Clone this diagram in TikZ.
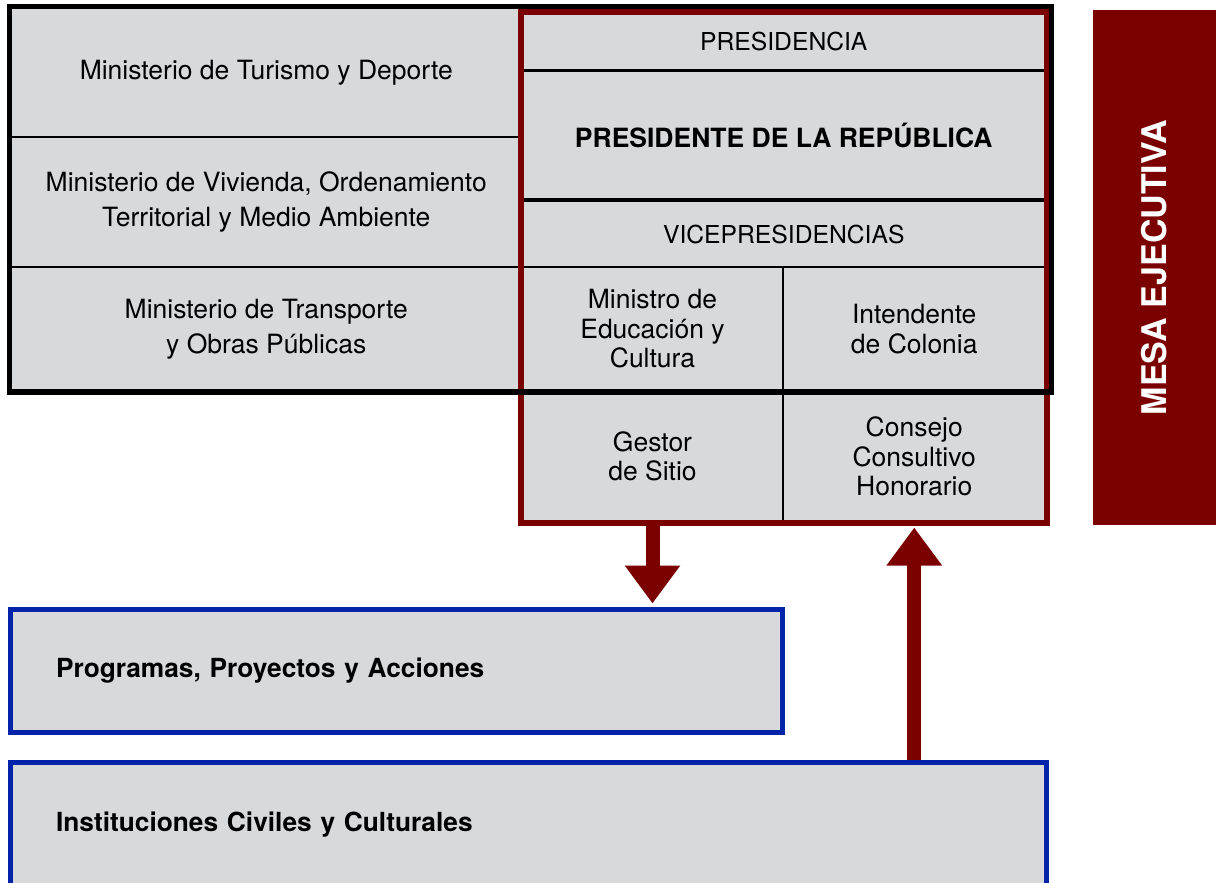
\documentclass[tikz,border=0pt]{standalone}
\usepackage{fontspec}
\setmainfont{TeX Gyre Heros}
\usetikzlibrary{arrows.meta}
\definecolor{cellgray}{RGB}{216,217,219}
\definecolor{mesared}{RGB}{123,0,0}
\definecolor{progblue}{RGB}{0,35,170}
\tikzset{every path/.style={line join=miter}}
\tikzset{
  cell/.style={fill=cellgray, draw=black, line width=2, inner sep=0pt, align=center,
    font=\fontsize{26.5}{34.5}\selectfont},
  subcell/.style={cell, font=\fontsize{26.5}{29.5}\selectfont},
  headcell/.style={cell, font=\fontsize{24.7}{28}\selectfont},
  wide/.style={fill=cellgray, draw=progblue, line width=5, inner ysep=0pt, inner xsep=45.5,
    align=left, font=\fontsize{26.3}{30}\selectfont\bfseries},
  bigarrow/.style={mesared, line width=14, -{Triangle[width=53pt,length=38pt]}}
}
\begin{document}
\begin{tikzpicture}[x=1pt,y=-1pt]
  \useasboundingbox (0,0) rectangle (1216,883);

  % ministerios
  \node[cell, minimum width=511.5, minimum height=129.5] (turismo) at (266.25,72.25) {Ministerio de Turismo y Deporte};
  \node[cell, minimum width=511.5, minimum height=130] (vivienda) at (266.25,202) {Ministerio de Vivienda, Ordenamiento\\Territorial y Medio Ambiente};
  \node[cell, minimum width=511.5, minimum height=124] (transporte) at (266.25,329) {Ministerio de Transporte\\y Obras Públicas};

  % presidencia
  \node[headcell, minimum width=523.5, minimum height=57] (presidencia) at (783.75,41.5) {PRESIDENCIA};
  \node[cell, minimum width=523.5, minimum height=131, font=\fontsize{26.5}{30}\selectfont\bfseries] (presidente) at (783.75,135.5) {PRESIDENTE DE LA REPÚBLICA};
  \node[headcell, minimum width=523.5, minimum height=66] (vice) at (783.75,234) {VICEPRESIDENCIAS};
  \node[subcell, minimum width=261, minimum height=124] (ministro) at (652.5,329) {Ministro de\\Educación y\\Cultura};
  \node[subcell, minimum width=262.5, minimum height=124] (intendente) at (914.25,329) {Intendente\\de Colonia};
  \node[subcell, minimum width=261, minimum height=131] (gestor) at (652.5,456.5) {Gestor\\de Sitio};
  \node[subcell, minimum width=262.5, minimum height=131] (consejo) at (914.25,456.5) {Consejo\\Consultivo\\Honorario};

  \draw[line width=3] (presidencia.south west) -- (presidencia.south east);
  \draw[line width=4] (vice.north west) -- (vice.north east);

  \draw[mesared, line width=6] (presidencia.north west) rectangle (consejo.south east);
  \draw[line width=5.5] (turismo.north west) rectangle ([xshift=5]intendente.south east);

  \node[fill=mesared, minimum width=123, minimum height=515, inner sep=0pt] (mesa) at (1154.5,267.5) {};
  \node[rotate=90, text=white, font=\fontsize{34}{38}\selectfont\bfseries] (mesatext) at (mesa.center) {MESA EJECUTIVA};

  % programas e instituciones
  \node[wide, text width=681, minimum height=123] (programas) at (396.5,671) {Programas, Proyectos y Acciones};
  \node[wide, text width=944.5, minimum height=124.5] (instituciones) at (528.25,824.75) {Instituciones Civiles y Culturales};

  \draw[bigarrow, shorten >=3.5] (gestor.south) -- (gestor.south |- programas.north);
  \draw[bigarrow, shorten >=4.5] (instituciones.north -| consejo.south) -- (consejo.south);
\end{tikzpicture}
\end{document}
